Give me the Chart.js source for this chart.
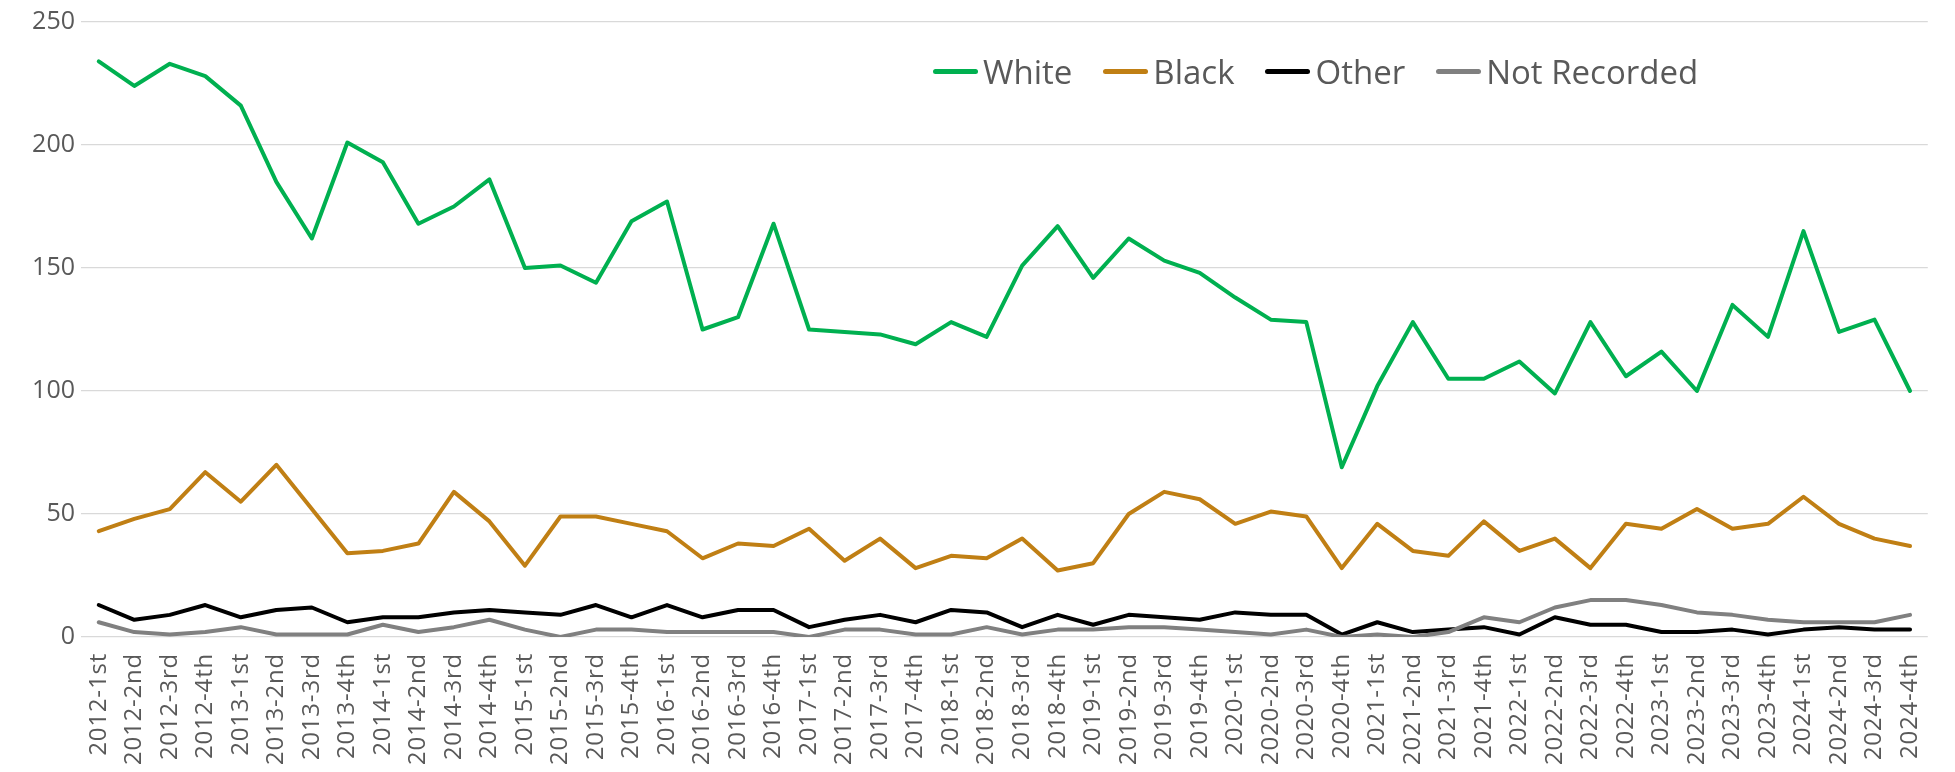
<!DOCTYPE html>
<html>
<head>
<meta charset="utf-8">
<script src="https://cdn.jsdelivr.net/npm/chart.js@4.4.1/dist/chart.umd.min.js"></script>
<style>
  html, body { margin: 0; padding: 0; background: #ffffff; overflow: hidden; }
  #wrap { position: relative; width: 1955px; height: 772px; }
  #legend { position: absolute; left: 933px; top: 49px; display: flex; align-items: center;
            font-family: "Open Sans", sans-serif; font-size: 33px; color: #595959; white-space: nowrap; }
  .item { display: flex; align-items: center; margin-right: 31px; }
  .swatch { display: inline-block; width: 45px; height: 5px; border-radius: 2.5px; margin-right: 5px; }
</style>
</head>
<body>
<div id="wrap">
  <canvas id="c" width="1955" height="772"></canvas>
  <div id="legend"></div>
</div>
<script>
const categories = [
  "2012-1st","2012-2nd","2012-3rd","2012-4th",
  "2013-1st","2013-2nd","2013-3rd","2013-4th",
  "2014-1st","2014-2nd","2014-3rd","2014-4th",
  "2015-1st","2015-2nd","2015-3rd","2015-4th",
  "2016-1st","2016-2nd","2016-3rd","2016-4th",
  "2017-1st","2017-2nd","2017-3rd","2017-4th",
  "2018-1st","2018-2nd","2018-3rd","2018-4th",
  "2019-1st","2019-2nd","2019-3rd","2019-4th",
  "2020-1st","2020-2nd","2020-3rd","2020-4th",
  "2021-1st","2021-2nd","2021-3rd","2021-4th",
  "2022-1st","2022-2nd","2022-3rd","2022-4th",
  "2023-1st","2023-2nd","2023-3rd","2023-4th",
  "2024-1st","2024-2nd","2024-3rd","2024-4th"
];

const white = [234,224,233,228, 216,185,162,201, 193,168,175,186, 150,151,144,169,
               177,125,130,168, 125,124,123,119, 128,122,151,167, 146,162,153,148,
               138,129,128,69, 102,128,105,105, 112,99,128,106, 116,100,135,122,
               165,124,129,100];
const black = [43,48,52,67, 55,70,52,34, 35,38,59,47, 29,49,49,46,
               43,32,38,37, 44,31,40,28, 33,32,40,27, 30,50,59,56,
               46,51,49,28, 46,35,33,47, 35,40,28,46, 44,52,44,46,
               57,46,40,37];
const other = [13,7,9,13, 8,11,12,6, 8,8,10,11, 10,9,13,8,
               13,8,11,11, 4,7,9,6, 11,10,4,9, 5,9,8,7,
               10,9,9,1, 6,2,3,4, 1,8,5,5, 2,2,3,1,
               3,4,3,3];
const notRecorded = [6,2,1,2, 4,1,1,1, 5,2,4,7, 3,0,3,3,
                     2,2,2,2, 0,3,3,1, 1,4,1,3, 3,4,4,3,
                     2,1,3,0, 1,0,2,8, 6,12,15,15, 13,10,9,7,
                     6,6,6,9];

const seriesNames = ["White", "Black", "Other", "Not Recorded"];
const seriesColors = ["#00B050", "#C07F14", "#000000", "#808080"];
const seriesValues = [white, black, other, notRecorded];

const yTicks = [0, 50, 100, 150, 200, 250];

const datasets = seriesNames.map((name, i) => ({
  label: name,
  data: seriesValues[i],
  borderColor: seriesColors[i],
  backgroundColor: seriesColors[i],
  borderWidth: 4,
  pointRadius: 0,
  pointHoverRadius: 0,
  tension: 0,
  fill: false,
  borderJoinStyle: 'round',
  borderCapStyle: 'round',
  order: seriesNames.length - i
}));

// HTML legend built from the series arrays
const legendEl = document.getElementById('legend');
seriesNames.forEach((name, i) => {
  const item = document.createElement('div');
  item.className = 'item';
  const sw = document.createElement('span');
  sw.className = 'swatch';
  sw.style.background = seriesColors[i];
  const tx = document.createElement('span');
  tx.textContent = name;
  item.appendChild(sw);
  item.appendChild(tx);
  legendEl.appendChild(item);
});

const letterSpacingPlugin = {
  id: 'xLetterSpacing',
  beforeDraw(chart) {
    const sc = chart.scales.x;
    if (sc && !sc._lsWrapped) {
      const orig = sc.drawLabels;
      sc.drawLabels = function (area) {
        const ctx = this.ctx;
        ctx.save();
        ctx.letterSpacing = '0.8px';
        orig.call(this, area);
        ctx.restore();
      };
      sc._lsWrapped = true;
    }
  }
};

new Chart(document.getElementById('c'), {
  type: 'line',
  data: { labels: categories, datasets },
  plugins: [letterSpacingPlugin],
  options: {
    responsive: false,
    devicePixelRatio: 1,
    animation: false,
    layout: { padding: { top: 22, right: 17, left: 0, bottom: 0 } },
    plugins: { legend: { display: false }, tooltip: { enabled: false } },
    scales: {
      x: {
        type: 'category',
        offset: true,
        grid: { display: false, drawTicks: false },
        border: { display: false },
        ticks: {
          autoSkip: false,
          minRotation: 90,
          maxRotation: 90,
          padding: 16,
          color: '#595959',
          font: { family: 'Open Sans', size: 24 }
        },
        afterFit(scale) { scale.height = 135; }
      },
      y: {
        min: 0,
        max: 250,
        afterBuildTicks(scale) { scale.ticks = yTicks.map(v => ({ value: v })); },
        grid: { color: '#D9D9D9', lineWidth: 1.2, drawTicks: false },
        border: { display: false },
        ticks: {
          padding: 6,
          color: '#595959',
          font: { family: 'Open Sans', size: 25 }
        },
        afterFit(scale) { scale.width = 81; }
      }
    }
  }
});
</script>
</body>
</html>
